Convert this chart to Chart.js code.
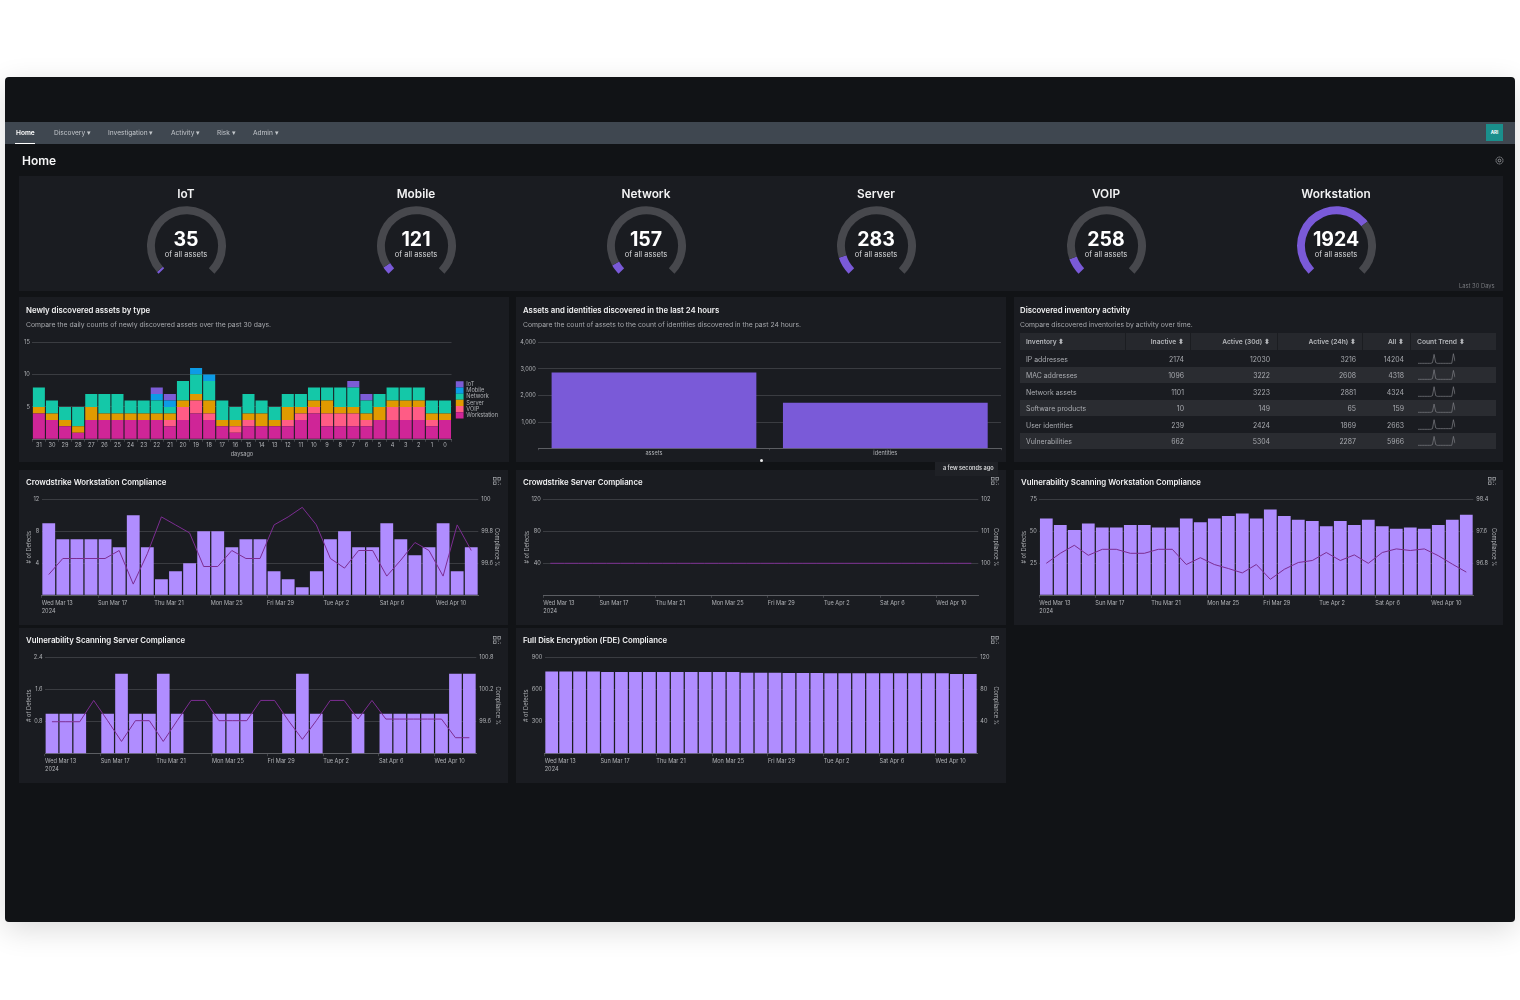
<!DOCTYPE html>
<html>
<head>
<meta charset="utf-8">
<title>Home</title>
<script src="https://cdn.jsdelivr.net/npm/chart.js@4"></script>
<style>
    html, body { margin: 0; padding: 0; background: #fff; font-family: Inter, sans-serif; }
    #page { position: relative; width: 1520px; height: 1000px; overflow: hidden; }
    #frame { position: absolute; left: 5px; top: 77px; width: 1510px; height: 845px; background: #111316; border-radius: 4px; box-shadow: 0 8px 30px rgba(0, 0, 0, .14); }
    #nav { position: absolute; left: 5px; top: 122px; width: 1510px; height: 22px; background: #3f4750; }
    #underline { position: absolute; left: 15px; top: 143px; width: 20px; height: 1px; background: #fff; }
    #avatar { position: absolute; left: 1486px; top: 124px; width: 17px; height: 17px; background: #1a8f8c; color: #fff; font-size: 4.5px; font-weight: 700; line-height: 17px; text-align: center; }
    .card { position: absolute; background: #1a1c21; }
    .t { position: absolute; white-space: nowrap; transform: translateY(-50%); will-change: transform; }
    .c { position: absolute; white-space: nowrap; transform: translate(-50%, -50%); text-align: center; will-change: transform; }
    .r { position: absolute; white-space: nowrap; transform: translate(-100%, -50%); will-change: transform; }
    .menu { font-size: 6.6px; color: #c3c7cc; top: 132.6px; }
    .title { font-size: 7.8px; font-weight: 600; color: #f2f2f3; }
    .sub { font-size: 6.8px; color: #a6a8ac; }
    .cell { font-size: 6.9px; color: #a9abb0; }
    .head { font-size: 6.7px; font-weight: 600; color: #b4b6ba; }
    canvas { position: absolute; }
    svg { position: absolute; }
</style>
</head>
<body>
<div id="page">
    <div id="frame"></div>
    <div id="nav"></div>
    <div id="underline"></div>
    <div id="avatar">ARI</div>
    <div class="t menu" style="left:15.5px;color:#fff;font-weight:600">Home</div>
    <div class="t menu" style="left:53.7px">Discovery ▾</div>
    <div class="t menu" style="left:107.7px">Investigation ▾</div>
    <div class="t menu" style="left:171.3px">Activity ▾</div>
    <div class="t menu" style="left:217px">Risk ▾</div>
    <div class="t menu" style="left:253.3px">Admin ▾</div>
    <div class="t" style="left:21.5px;top:159.8px;font-size:12px;font-weight:600;color:#f4f4f5">Home</div>
    <svg style="left:1495px;top:156px" width="9" height="9" viewBox="0 0 8 8"><circle cx="4" cy="4" r="1.2" fill="none" stroke="#a9abb0" stroke-width=".7"/><circle cx="4" cy="4" r="3.1" fill="none" stroke="#a9abb0" stroke-width=".8" stroke-dasharray="1.2 .7"/></svg>

    <div class="card" style="left:19px;top:176px;width:1484px;height:115px"></div>
    <div class="t" style="left:1459px;top:285px;font-size:5.8px;color:#77797e">Last 30 Days</div>

    <div class="card" style="left:19px;top:297px;width:490px;height:165px"></div>
    <div class="t title" style="left:25.7px;top:309.7px">Newly discovered assets by type</div>
    <div class="t sub" style="left:25.7px;top:324px">Compare the daily counts of newly discovered assets over the past 30 days.</div>

    <div class="card" style="left:516px;top:297px;width:490px;height:165px"></div>
    <div class="t title" style="left:522.7px;top:309.7px">Assets and identities discovered in the last 24 hours</div>
    <div class="t sub" style="left:522.7px;top:324px">Compare the count of assets to the count of identities discovered in the past 24 hours.</div>

    <div class="card" style="left:1014px;top:297px;width:489px;height:165px"></div>
    <div class="t title" style="left:1020px;top:309.7px">Discovered inventory activity</div>
    <div class="t sub" style="left:1020px;top:324px">Compare discovered inventories by activity over time.</div>

    <div class="card" style="left:19px;top:470px;width:489px;height:155px"></div>
    <div class="t title" style="left:25.7px;top:481.7px">Crowdstrike Workstation Compliance</div>
    <div class="card" style="left:516px;top:470px;width:490px;height:155px"></div>
    <div class="t title" style="left:523.3px;top:481.7px">Crowdstrike Server Compliance</div>
    <div class="card" style="left:1014px;top:470px;width:489px;height:155px"></div>
    <div class="t title" style="left:1021px;top:481.7px">Vulnerability Scanning Workstation Compliance</div>
    <div class="card" style="left:19px;top:628px;width:489px;height:155px"></div>
    <div class="t title" style="left:25.7px;top:640.3px">Vulnerability Scanning Server Compliance</div>
    <div class="card" style="left:516px;top:628px;width:490px;height:155px"></div>
    <div class="t title" style="left:523.3px;top:640.3px">Full Disk Encryption (FDE) Compliance</div>

    <div style="position:absolute;left:935px;top:461.5px;width:63px;height:14px;background:#1f2126"></div>
    <div class="t" style="left:942.7px;top:468px;font-size:5.6px;font-weight:600;color:#d9dadc">a few seconds ago</div>
    <div style="position:absolute;left:759.8px;top:459px;width:3px;height:3px;border-radius:50%;background:#e8e8e8"></div>
</div>

<script>
// Gauges
const gaugeNames = ['IoT', 'Mobile', 'Network', 'Server', 'VOIP', 'Workstation']
const gaugeValues = [35, 121, 157, 283, 258, 1924]

// Newly discovered assets by type
const daysAgo = ['31', '30', '29', '28', '27', '26', '25', '24', '23', '22', '21', '20', '19', '18', '17', '16', '15', '14', '13', '12', '11', '10', '9', '8', '7', '6', '5', '4', '3', '2', '1', '0']
const workstationAssets = [4, 3, 2, 1, 3, 3, 3, 3, 3, 3, 2, 3, 4, 3, 2, 1, 2, 2, 2, 2, 3, 4, 2, 2, 2, 2, 3, 3, 3, 3, 2, 3]
const voipAssets = [0, 0, 0, 0, 0, 0, 0, 0, 0, 0, 1, 2, 2, 1, 0, 1, 1, 0, 0, 1, 1, 1, 2, 2, 2, 1, 0, 2, 2, 2, 1, 0]
const serverAssets = [1, 1, 1, 1, 2, 1, 1, 1, 1, 1, 1, 1, 1, 2, 1, 1, 1, 2, 1, 2, 1, 1, 2, 1, 1, 1, 2, 1, 1, 1, 1, 1]
const networkAssets = [3, 2, 2, 3, 2, 3, 3, 2, 2, 2, 1, 3, 3, 3, 3, 2, 3, 2, 2, 2, 2, 2, 2, 3, 3, 2, 2, 2, 2, 2, 2, 2]
const mobileAssets = [0, 0, 0, 0, 0, 0, 0, 0, 0, 1, 1, 0, 1, 1, 0, 0, 0, 0, 0, 0, 0, 0, 0, 0, 0, 0, 0, 0, 0, 0, 0, 0]
const iotAssets = [0, 0, 0, 0, 0, 0, 0, 0, 0, 1, 1, 0, 0, 0, 0, 0, 0, 0, 0, 0, 0, 0, 0, 0, 1, 1, 0, 0, 0, 0, 0, 0]

// Assets and identities
const discoveredNames = ['assets', 'identities']
const discoveredCounts = [2860, 1725]

// Inventory table
const inventoryNames = ['IP addresses', 'MAC addresses', 'Network assets', 'Software products', 'User identities', 'Vulnerabilities']
const inactiveCounts = [2174, 1096, 1101, 10, 239, 662]
const active30dCounts = [12030, 3222, 3223, 149, 2424, 5304]
const active24hCounts = [3216, 2608, 2881, 65, 1869, 2287]
const allCounts = [14204, 4318, 4324, 159, 2663, 5966]
const ipTrend = [1, 1, 1, 1, 1, 1, 1, 1, 1, 2, 14, 2, 1, 1, 1, 1, 1, 1, 1, 1, 1, 1, 15, 4]
const macTrend = [1, 1, 1, 1, 1, 1, 1, 1, 1, 2, 15, 2, 1, 1, 1, 1, 1, 1, 1, 1, 1, 1, 14, 4]
const networkTrend = [1, 1, 1, 1, 1, 1, 1, 1, 1, 2, 15, 2, 1, 1, 1, 1, 1, 1, 1, 1, 1, 1, 15, 4]
const softwareTrend = [1, 1, 1, 1, 1, 1, 1, 1, 1, 2, 13, 2, 1, 1, 1, 1, 1, 1, 1, 1, 1, 1, 15, 4]
const identityTrend = [1, 1, 1, 1, 1, 1, 1, 1, 1, 2, 15, 3, 2, 2, 2, 2, 2, 2, 2, 2, 2, 2, 15, 4]
const vulnerabilityTrend = [1, 1, 1, 1, 1, 1, 1, 1, 1, 2, 14, 2, 1, 1, 1, 1, 1, 1, 1, 1, 1, 1, 14, 4]
const trendSeries = [ipTrend, macTrend, networkTrend, softwareTrend, identityTrend, vulnerabilityTrend]

// Compliance charts share the same dates
const complianceDates = ['Wed Mar 13', 'Thu Mar 14', 'Fri Mar 15', 'Sat Mar 16', 'Sun Mar 17', 'Mon Mar 18', 'Tue Mar 19', 'Wed Mar 20', 'Thu Mar 21', 'Fri Mar 22', 'Sat Mar 23', 'Sun Mar 24', 'Mon Mar 25', 'Tue Mar 26', 'Wed Mar 27', 'Thu Mar 28', 'Fri Mar 29', 'Sat Mar 30', 'Sun Mar 31', 'Mon Apr 1', 'Tue Apr 2', 'Wed Apr 3', 'Thu Apr 4', 'Fri Apr 5', 'Sat Apr 6', 'Sun Apr 7', 'Mon Apr 8', 'Tue Apr 9', 'Wed Apr 10', 'Thu Apr 11', 'Fri Apr 12']

const csWorkstationDefects = [9, 7, 7, 7, 7, 6, 10, 6, 2, 3, 4, 8, 8, 6, 7, 7, 3, 2, 1, 3, 7, 8, 6, 6, 9, 7, 5, 6, 9, 3, 6]
const csWorkstationCompliance = [99.53, 99.63, 99.63, 99.63, 99.63, 99.68, 99.47, 99.66, 99.89, 99.84, 99.79, 99.58, 99.58, 99.68, 99.63, 99.63, 99.84, 99.89, 99.95, 99.84, 99.63, 99.57, 99.68, 99.68, 99.52, 99.62, 99.73, 99.68, 99.52, 99.84, 99.68]

const csServerDefects = [0, 0, 0, 0, 0, 0, 0, 0, 0, 0, 0, 0, 0, 0, 0, 0, 0, 0, 0, 0, 0, 0, 0, 0, 0, 0, 0, 0, 0, 0, 0]
const csServerCompliance = [100, 100, 100, 100, 100, 100, 100, 100, 100, 100, 100, 100, 100, 100, 100, 100, 100, 100, 100, 100, 100, 100, 100, 100, 100, 100, 100, 100, 100, 100, 100]

const vsWorkstationDefects = [60, 55, 51, 56, 53, 53, 55, 55, 53, 53, 60, 57, 60, 62, 64, 60, 67, 62, 59, 58, 54, 58, 55, 59, 54, 52, 53, 52, 55, 59, 63]
const vsWorkstationCompliance = [96.8, 97.05, 97.25, 97, 97.15, 97.15, 97.05, 97.05, 97.15, 97.15, 96.77, 96.94, 96.77, 96.67, 96.56, 96.77, 96.4, 96.65, 96.82, 96.87, 97.07, 96.87, 97.01, 96.8, 97.07, 97.16, 97.12, 97.16, 96.99, 96.78, 96.58]

const vsServerDefects = [1, 1, 1, 0, 1, 2, 1, 1, 2, 1, 0, 0, 1, 1, 1, 0, 0, 1, 2, 1, 0, 0, 1, 0, 1, 1, 1, 1, 1, 2, 2]
const vsServerCompliance = [99.6, 99.6, 99.6, 100, 99.62, 99.23, 99.62, 99.62, 99.23, 99.62, 100, 100, 99.62, 99.62, 99.62, 100, 100, 99.62, 99.27, 99.62, 100, 100, 99.65, 100, 99.65, 99.65, 99.65, 99.65, 99.65, 99.3, 99.3]

const fdeDefects = [772, 772, 772, 772, 766, 766, 766, 766, 766, 766, 766, 766, 766, 766, 760, 760, 760, 757, 757, 757, 754, 754, 754, 754, 754, 754, 754, 754, 754, 748, 748]

const page = document.getElementById('page')
const tickColor = '#b1b3b7'
const gridColor = '#3a3c41'
const axisColor = '#5c5e63'
const purple = '#7a5ad8'
const lilac = '#b08dff'

Chart.defaults.font.family = 'Inter, sans-serif'
Chart.defaults.font.size = 5.6
Chart.defaults.color = tickColor
Chart.defaults.animation = false
Chart.defaults.responsive = false
Chart.defaults.plugins.legend.display = false
Chart.defaults.plugins.tooltip.enabled = false

// Function to add a text element
function addText(className, left, top, text, style) {
    const el = document.createElement('div')
    el.className = className
    el.style.left = left + 'px'
    el.style.top = top + 'px'
    el.textContent = text
    if (style) el.style.cssText += style
    page.appendChild(el)
}

// Function to add a canvas at page coordinates
function addCanvas(left, top, width, height) {
    const canvas = document.createElement('canvas')
    canvas.width = width
    canvas.height = height
    canvas.style.left = left + 'px'
    canvas.style.top = top + 'px'
    canvas.style.width = width + 'px'
    canvas.style.height = height + 'px'
    page.appendChild(canvas)
    return canvas
}

// Function to add the small expand icon in a card corner
function addExpandIcon(left, top) {
    const icon = document.createElementNS('http://www.w3.org/2000/svg', 'svg')
    icon.setAttribute('width', '8')
    icon.setAttribute('height', '8')
    icon.setAttribute('viewBox', '0 0 8 8')
    icon.style.left = left + 'px'
    icon.style.top = top + 'px'
    icon.innerHTML = '<g fill="none" stroke="#a9abb0" stroke-width=".7"><rect x=".5" y=".5" width="2.6" height="2.6"/><rect x="4.9" y=".5" width="2.6" height="2.6"/><rect x=".5" y="4.9" width="2.6" height="2.6"/><path d="M4.9 5h1.3M7.5 6.5v1M4.9 7.5h1"/></g>'
    page.appendChild(icon)
}

// Gauges
const gaugeTotal = gaugeValues.reduce((a, b) => a + b, 0)
gaugeNames.forEach((name, i) => {
    const x = 186 + 230 * i
    addText('c', x, 193.9, name, 'font-size:11.8px;font-weight:600;color:#f2f2f3')
    new Chart(addCanvas(x - 39.5, 206, 79, 68), {
        type: 'doughnut',
        data: {
            datasets: [{
                data: [gaugeValues[i], gaugeTotal - gaugeValues[i]],
                backgroundColor: [purple, '#47484d'],
                borderWidth: 0
            }]
        },
        options: {
            rotation: -135,
            circumference: 270,
            cutout: '80%'
        }
    })
    addText('c', x, 239, String(gaugeValues[i]), 'font-size:19.5px;font-weight:700;color:#fff')
    addText('c', x, 254, 'of all assets', 'font-size:7.6px;color:#d5d6d8')
})

// Newly discovered assets, stacked
const stackedSeries = [
    ['Workstation', workstationAssets, '#cf2597'],
    ['VOIP', voipAssets, '#ff5c85'],
    ['Server', serverAssets, '#e09a00'],
    ['Network', networkAssets, '#14c8a8'],
    ['Mobile', mobileAssets, '#0d9be6'],
    ['IoT', iotAssets, '#7c5cd6']
]
new Chart(addCanvas(19, 336, 489, 126), {
    type: 'bar',
    data: {
        labels: daysAgo,
        datasets: stackedSeries.map(s => ({
            label: s[0],
            data: s[1],
            backgroundColor: s[2],
            barPercentage: 0.92,
            categoryPercentage: 1
        }))
    },
    options: {
        layout: { padding: { top: 6.2, bottom: 4.5 } },
        plugins: {
            legend: {
                display: true,
                position: 'right',
                reverse: true,
                labels: { boxWidth: 8, boxHeight: 6.2, padding: 0, color: tickColor, font: { size: 5.6, lineHeight: 1 } }
            }
        },
        scales: {
            x: {
                stacked: true,
                afterFit: s => { s.height = 18.2 },
                grid: { offset: true, drawOnChartArea: false, tickLength: 2.5, tickColor: axisColor, tickWidth: 0.6 },
                border: { color: axisColor },
                ticks: { padding: 0, autoSkip: false, maxRotation: 0 },
                title: { display: true, text: 'daysago', padding: 0, color: tickColor, font: { size: 5.6 } }
            },
            y: {
                stacked: true,
                min: 0,
                max: 15,
                afterFit: s => { s.width = 13.3 },
                grid: { color: gridColor, drawTicks: false },
                border: { display: false },
                ticks: { stepSize: 5, padding: 2.5, callback: v => (v === 0 ? '' : v) }
            },
            // empty axis only to leave a gap before the legend
            gap: {
                position: 'right',
                display: true,
                afterFit: s => { s.width = 4 },
                grid: { display: false, drawTicks: false },
                border: { display: false },
                ticks: { display: false }
            }
        }
    }
})

// Assets and identities bars
new Chart(addCanvas(516, 297, 490, 165), {
    type: 'bar',
    data: {
        labels: discoveredNames,
        datasets: [{
            data: discoveredCounts,
            backgroundColor: purple,
            barPercentage: 0.885,
            categoryPercentage: 1
        }]
    },
    options: {
        layout: { padding: { top: 45.3, right: 5 } },
        scales: {
            x: {
                afterFit: s => { s.height = 13.3 },
                grid: { offset: true, drawOnChartArea: false, tickLength: 1.5, tickColor: axisColor, tickWidth: 0.6 },
                border: { color: axisColor },
                ticks: { padding: 0 }
            },
            y: {
                min: 0,
                max: 4000,
                afterFit: s => { s.width = 22.3 },
                grid: { color: gridColor, drawTicks: false },
                border: { display: false },
                ticks: { stepSize: 1000, padding: 2.5, callback: v => (v === 0 ? '' : v.toLocaleString('en-US')) }
            }
        }
    }
})

// Inventory table
const tableRight = [1184, 1270, 1356, 1404]
const tableHeads = ['Inactive ⬍', 'Active (30d) ⬍', 'Active (24h) ⬍', 'All ⬍']
const tableColumns = [inactiveCounts, active30dCounts, active24hCounts, allCounts]
addText('', 1020, 333.3, '', 'position:absolute;width:476px;height:16.7px;background:#26282d')
addText('t head', 1026, 341.8, 'Inventory ⬍')
addText('t head', 1417, 341.8, 'Count Trend ⬍')
tableHeads.forEach((head, c) => addText('r head', tableRight[c], 341.8, head))
;[1125, 1190, 1277, 1362, 1410].forEach(x => {
    addText('', x, 333.3, '', 'position:absolute;width:.6px;height:16.7px;background:#1b1d21')
})
inventoryNames.forEach((name, i) => {
    const rowTop = 350 + 16.5 * i
    if (i % 2 === 1) addText('', 1020, rowTop, '', 'position:absolute;width:476px;height:16.5px;background:#2a2c31')
    addText('t cell', 1026, rowTop + 8.9, name)
    tableColumns.forEach((col, c) => addText('r cell', tableRight[c], rowTop + 8.9, String(col[i])))
    new Chart(addCanvas(1417, rowTop + 1.5, 39, 13), {
        type: 'line',
        data: {
            labels: trendSeries[i].map((v, n) => n),
            datasets: [{ data: trendSeries[i], borderColor: '#7e8085', borderWidth: 0.7, pointRadius: 0 }]
        },
        options: {
            layout: { padding: 1 },
            scales: { x: { display: false }, y: { display: false, min: 0, max: 16 } }
        }
    })
})

// Function to draw one compliance chart, card and plot area are page coordinates
function complianceChart(opts) {
    const [cardLeft, cardTop, cardWidth, cardHeight] = opts.card
    const [areaLeft, areaRight, areaTop, areaBottom] = opts.area
    const bandWidth = (areaRight - areaLeft) / complianceDates.length
    const datasets = [{
        type: 'bar',
        data: opts.defects,
        backgroundColor: lilac,
        barPercentage: 0.91,
        categoryPercentage: 1,
        yAxisID: 'y',
        order: 2
    }]
    if (opts.compliance) {
        datasets.push({
            type: 'line',
            data: opts.compliance,
            borderColor: '#7c2d92',
            borderWidth: 1,
            pointRadius: 0,
            tension: 0,
            yAxisID: 'y2',
            order: 1
        })
    }
    new Chart(addCanvas(cardLeft, cardTop, cardWidth, cardHeight), {
        data: { labels: complianceDates, datasets: datasets },
        options: {
            layout: {
                padding: {
                    top: areaTop - cardTop,
                    left: areaLeft - cardLeft - opts.leftWidth,
                    right: cardLeft + cardWidth - areaRight - opts.rightWidth
                }
            },
            scales: {
                x: {
                    afterFit: s => { s.height = cardTop + cardHeight - areaBottom },
                    grid: {
                        offset: true,
                        drawOnChartArea: false,
                        tickLength: 2.5,
                        tickWidth: 0.6,
                        tickColor: ctx => (ctx.index % 4 === 0 ? axisColor : 'transparent')
                    },
                    border: { color: axisColor },
                    ticks: {
                        autoSkip: false,
                        maxRotation: 0,
                        align: 'start',
                        padding: 1.3,
                        labelOffset: -bandWidth / 2,
                        font: { size: 5.6, lineHeight: 1.4 },
                        callback: function (v, i) {
                            if (i % 4 !== 0) return ''
                            return i === 0 ? [complianceDates[i], '2024'] : complianceDates[i]
                        }
                    }
                },
                y: {
                    position: 'left',
                    min: 0,
                    max: opts.yMax,
                    afterFit: s => { s.width = opts.leftWidth },
                    grid: { color: gridColor, drawTicks: false },
                    border: { display: false },
                    ticks: { stepSize: opts.yMax / 3, padding: 2.5, callback: v => (v === 0 ? '' : Number(v.toFixed(1))) },
                    title: { display: true, text: '# of Defects', padding: 0, color: tickColor, font: { size: 5.6 } }
                },
                y2: {
                    position: 'right',
                    min: opts.y2Min,
                    max: opts.y2Max,
                    afterFit: s => { s.width = opts.rightWidth },
                    grid: { display: false, drawTicks: false },
                    border: { display: false },
                    ticks: {
                        stepSize: (opts.y2Max - opts.y2Min) / 3,
                        padding: 3,
                        callback: v => (Math.abs(v - opts.y2Min) < 0.001 ? '' : Number(v.toFixed(1)))
                    },
                    title: { display: true, text: 'Compliance %', padding: 0, color: tickColor, font: { size: 5.6 } }
                }
            }
        }
    })
}

complianceChart({
    card: [19, 470, 489, 155], area: [41.7, 478.3, 499.3, 595.3], leftWidth: 16, rightWidth: 22,
    defects: csWorkstationDefects, compliance: csWorkstationCompliance,
    yMax: 12, y2Min: 99.4, y2Max: 100
})
complianceChart({
    card: [516, 470, 490, 155], area: [543.3, 978.3, 499.3, 595.3], leftWidth: 19.6, rightWidth: 20.7,
    defects: csServerDefects, compliance: csServerCompliance,
    yMax: 120, y2Min: 99, y2Max: 102
})
complianceChart({
    card: [1014, 470, 489, 155], area: [1039.3, 1473.3, 499.3, 595.3], leftWidth: 18, rightWidth: 23.7,
    defects: vsWorkstationDefects, compliance: vsWorkstationCompliance,
    yMax: 75, y2Min: 96, y2Max: 98.4
})
complianceChart({
    card: [19, 628, 489, 155], area: [45, 476.3, 657.8, 753.7], leftWidth: 19, rightWidth: 25,
    defects: vsServerDefects, compliance: vsServerCompliance,
    yMax: 2.4, y2Min: 99, y2Max: 100.8
})
complianceChart({
    card: [516, 628, 490, 155], area: [544.7, 977.3, 657.8, 753.7], leftWidth: 22, rightWidth: 21.4,
    defects: fdeDefects,
    yMax: 900, y2Min: 0, y2Max: 120
})

addExpandIcon(493, 477)
addExpandIcon(991, 477)
addExpandIcon(1488, 477)
addExpandIcon(493, 635.5)
addExpandIcon(991, 635.5)
</script>
</body>
</html>
